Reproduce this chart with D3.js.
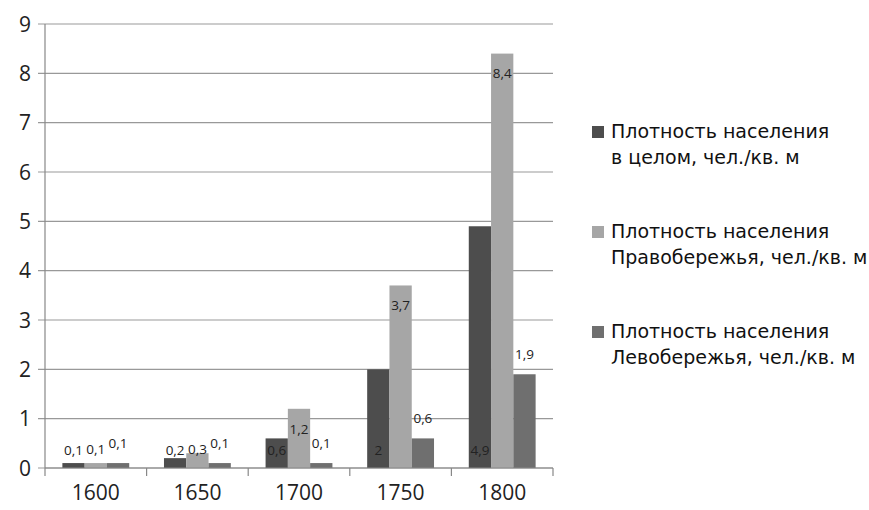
<!DOCTYPE html>
<html><head><meta charset="utf-8">
<script src="https://cdn.jsdelivr.net/npm/d3@7"></script>
<style>body{margin:0;background:#fff}
</style>
</head><body>
<svg id="c" width="869" height="510"></svg>
<script>
const years = ["1600","1650","1700","1750","1800"];
const seriesNames = [
  ["Плотность населения","в целом, чел./кв. м"],
  ["Плотность населения","Правобережья, чел./кв. м"],
  ["Плотность населения","Левобережья, чел./кв. м"]
];
const total = [0.1, 0.2, 0.6, 2, 4.9];
const right = [0.1, 0.3, 1.2, 3.7, 8.4];
const left  = [0.1, 0.1, 0.1, 0.6, 1.9];
const yTicks = [0,1,2,3,4,5,6,7,8,9];
const colors = ["#4d4d4d","#a6a6a6","#6f6f6f"];
const series = [total, right, left];
const labelModes = ["base","insideEnd","outsideEnd"];

const svg = d3.select("#c");
const x0 = d3.scaleBand().domain(years).range([45,553]).paddingInner(0).paddingOuter(0);
const x1 = d3.scaleBand().domain([0,1,2]).range([0, x0.bandwidth()]).paddingOuter(0.78).paddingInner(0);
const y = d3.scaleLinear().domain([0,9]).range([468,24]);

svg.append("g").selectAll("line").data(yTicks).join("line")
  .attr("x1",38).attr("x2",553).attr("y1",d=>y(d)).attr("y2",d=>y(d))
  .attr("stroke","#999").attr("stroke-width",1.2);

svg.append("g").selectAll("text").data(yTicks).join("text")
  .attr("x",31).attr("y",d=>y(d)).attr("dy","0.36em").attr("text-anchor","end")
  .attr("font-family","Open Sans").attr("font-size",21).attr("fill","#222").text(d=>d);

years.forEach((yr,i)=>{
  series.forEach((s,k)=>{
    svg.append("rect").attr("x",x0(yr)+x1(k)).attr("width",x1.bandwidth())
      .attr("y",y(s[i])).attr("height",y(0)-y(s[i])).attr("fill",colors[k]);
  });
});

svg.append("line").attr("x1",45).attr("x2",45).attr("y1",y(9)).attr("y2",y(0)).attr("stroke","#888").attr("stroke-width",1.2);
svg.append("line").attr("x1",45).attr("x2",553).attr("y1",y(0)).attr("y2",y(0)).attr("stroke","#888").attr("stroke-width",1.2);
const tickX = years.map(d=>x0(d)).concat([553]);
svg.append("g").selectAll("line").data(tickX).join("line")
  .attr("x1",d=>d).attr("x2",d=>d).attr("y1",y(0)).attr("y2",y(0)+8).attr("stroke","#888").attr("stroke-width",1.2);

svg.append("g").selectAll("text").data(years).join("text")
  .attr("x",d=>x0(d)+x0.bandwidth()/2).attr("y",500).attr("text-anchor","middle")
  .attr("font-family","Open Sans").attr("font-size",21).attr("fill","#222").text(d=>d);

years.forEach((yr,i)=>{
  series.forEach((s,k)=>{
    const top = y(s[i]);
    let cy;
    if (labelModes[k]==="base") cy = y(0)-18;
    else if (labelModes[k]==="insideEnd") cy = Math.min(top+20, y(0)-19);
    else cy = top-20;
    svg.append("text").attr("x",x0(yr)+x1(k)+x1.bandwidth()/2).attr("y",cy).attr("dy","0.35em")
      .attr("text-anchor","middle").attr("font-family","Open Sans").attr("font-size",13.5)
      .attr("fill","#222").text(String(s[i]).replace(".",","));
  });
});

seriesNames.forEach((nm,k)=>{
  const ly = 132 + k*100;
  svg.append("rect").attr("x",592).attr("y",ly-6).attr("width",12).attr("height",12).attr("fill",colors[k]);
  const t = svg.append("text").attr("font-family","DejaVu Sans").attr("font-size",19).attr("fill","#111");
  t.append("tspan").attr("x",611).attr("y",ly+6).text(nm[0]);
  t.append("tspan").attr("x",611).attr("y",ly+32).text(nm[1]);
});
</script>
</body></html>
